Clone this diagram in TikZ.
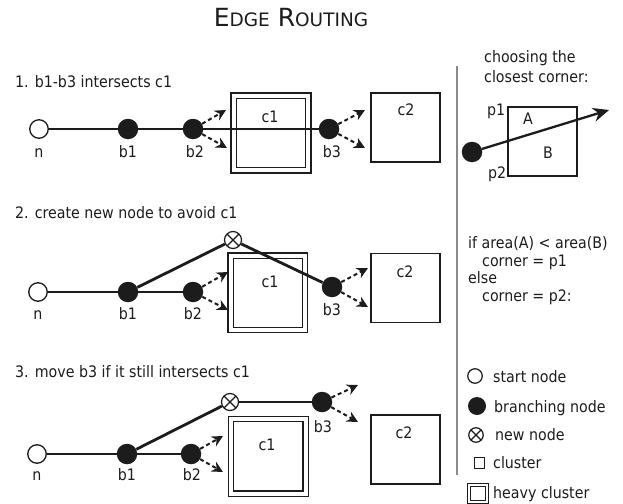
\documentclass[tikz,border=0pt]{standalone}
\usepackage{fontspec}
\setmainfont{DejaVu Sans}[FakeStretch=0.9]
\newfontfamily\titlefont{DejaVu Sans}
\usetikzlibrary{arrows.meta}
\definecolor{ink}{HTML}{1C1C1C}
\definecolor{rule}{HTML}{8A8A8A}
\tikzset{
  txt/.style={inner sep=0pt, text=ink, font=\fontsize{15.8}{19}\selectfont},
  lbl/.style={txt, anchor=base},
  ltxt/.style={txt, anchor=base west},
  startnode/.style={circle, draw=ink, fill=white, line width=1.3pt, minimum size=18.5pt, inner sep=0pt},
  branchnode/.style={circle, fill=ink, minimum size=20.5pt, inner sep=0pt},
  newnode/.style={circle, draw=ink, fill=white, line width=1.2pt, minimum size=17pt, inner sep=0pt,
    path picture={\draw[ink, line width=1.2pt]
      (path picture bounding box.north west) -- (path picture bounding box.south east)
      (path picture bounding box.north east) -- (path picture bounding box.south west);}},
  cluster/.style={rectangle, draw=ink, line width=1.3pt, minimum size=69pt, inner sep=0pt},
  heavy/.style={rectangle, draw=ink, line width=1.3pt, double=white, double distance=4pt, minimum size=74.5pt, inner sep=0pt},
  thinedge/.style={draw=ink, line width=2pt},
  thickedge/.style={draw=ink, line width=2.8pt},
  probe/.style={draw=ink, line width=2pt, dash pattern=on 4pt off 3pt, -{Stealth[length=11pt,width=11pt]}},
}
\begin{document}
\begin{tikzpicture}[x=1pt, y=-1pt]
\useasboundingbox (0,0) rectangle (623,503);

% title
\node[anchor=base, inner sep=0pt, text=ink] (title) at (291,27)
  {\titlefont\fontsize{25}{25}\selectfont E{\fontsize{18.5}{18.5}\selectfont DGE} R{\fontsize{18.5}{18.5}\selectfont OUTING}};

% separator
\coordinate (vt) at (457,66);
\coordinate (vb) at (457,475);
\draw[rule, line width=1.3pt] (vt) -- (vb);

% ---------- row 1 ----------
\node[ltxt] (h1) at (15,87) {1. b1-b3 intersects c1};
\node[heavy] (c1a) at (271,133) {};
\node[cluster] (c2a) at (405.5,127.5) {};
\node[lbl] (c1al) at (270,122) {c1};
\node[lbl] (c2al) at (406,115) {c2};
\node[startnode] (na) at (39,129) {};
\node[branchnode] (b1a) at (128,129) {};
\node[branchnode] (b2a) at (193,129) {};
\node[branchnode] (b3a) at (329,129) {};
\node[lbl] (nal) at (39,157) {n};
\node[lbl] (b1al) at (128,157) {b1};
\node[lbl] (b2al) at (195,157) {b2};
\node[lbl] (b3al) at (332,157) {b3};
\draw[thinedge] (na) -- (b1a);
\draw[thinedge] (b1a) -- (b2a);
\draw[thickedge] (b2a) -- (b3a);
\coordinate (t2au) at (226,110);
\coordinate (t2ad) at (227,148);
\coordinate (t3au) at (365,110);
\coordinate (t3ad) at (365,148);
\draw[probe] (b2a) -- (t2au);
\draw[probe] (b2a) -- (t2ad);
\draw[probe] (b3a) -- (t3au);
\draw[probe] (b3a) -- (t3ad);

% ---------- row 2 ----------
\node[ltxt] (h2) at (15,218) {2. create new node to avoid c1};
\node[heavy] (c1b) at (267.75,292.75) {};
\node[cluster] (c2b) at (405.5,288) {};
\node[lbl] (c1bl) at (270,287) {c1};
\node[lbl] (c2bl) at (405,277) {c2};
\node[startnode] (nb) at (38,292) {};
\node[branchnode] (b1b) at (128,292) {};
\node[branchnode] (b2b) at (193,292) {};
\node[branchnode] (b3b) at (332,287) {};
\node[newnode] (xb) at (233,240) {};
\node[lbl] (nbl) at (38,319) {n};
\node[lbl] (b1bl) at (128,319) {b1};
\node[lbl] (b2bl) at (193,319) {b2};
\node[lbl] (b3bl) at (332,315) {b3};
\draw[thinedge] (nb) -- (b1b);
\draw[thinedge] (b1b) -- (b2b);
\draw[thickedge] (b1b) -- (xb);
\draw[thickedge] (xb) -- (b3b);
\coordinate (t2bu) at (228,272);
\coordinate (t2bd) at (228,310);
\coordinate (t3bu) at (368,268);
\coordinate (t3bd) at (368,307);
\draw[probe] (b2b) -- (t2bu);
\draw[probe] (b2b) -- (t2bd);
\draw[probe] (b3b) -- (t3bu);
\draw[probe] (b3b) -- (t3bd);

% ---------- row 3 ----------
\node[ltxt] (h3) at (15,377) {3. move b3 if it still intersects c1};
\node[heavy] (c1c) at (268.25,456.25) {};
\node[cluster] (c2c) at (405.5,449.5) {};
\node[lbl] (c1cl) at (267,450) {c1};
\node[lbl] (c2cl) at (404,438) {c2};
\node[startnode] (nc) at (37,454) {};
\node[branchnode] (b1c) at (127,454) {};
\node[branchnode] (b2c) at (191,454) {};
\node[branchnode] (b3c) at (322,402) {};
\node[newnode] (xc) at (230,402) {};
\node[lbl] (ncl) at (37,480) {n};
\node[lbl] (b1cl) at (127,480) {b1};
\node[lbl] (b2cl) at (192,480) {b2};
\node[lbl] (b3cl) at (323,432) {b3};
\draw[thinedge] (nc) -- (b1c);
\draw[thinedge] (b1c) -- (b2c);
\draw[thickedge] (b1c) -- (xc);
\draw[thickedge] (xc) -- (b3c);
\coordinate (t2cu) at (223,436);
\coordinate (t2cd) at (223,472);
\coordinate (t3cu) at (358,385);
\coordinate (t3cd) at (358,422);
\draw[probe] (b2c) -- (t2cu);
\draw[probe] (b2c) -- (t2cd);
\draw[probe] (b3c) -- (t3cu);
\draw[probe] (b3c) -- (t3cd);

% ---------- right panel ----------
\node[ltxt] (q1) at (484,63) {choosing the};
\node[ltxt] (q2) at (484,82) {closest corner:};
\node[cluster] (box) at (542.5,141.5) {};
\node[ltxt] (p1) at (487,115) {p1};
\node[ltxt] (p2) at (488,178) {p2};
\node[lbl] (A) at (528,124) {A};
\node[lbl] (B) at (548,158) {B};
\node[branchnode] (dot) at (472,152) {};
\coordinate (tip) at (609,110);
\draw[draw=ink, line width=2.3pt, -{Stealth[length=16pt,width=14pt]}] (dot) -- (tip);

\node[ltxt] (i1) at (468,248) {if area(A) < area(B)};
\node[ltxt] (i2) at (482,266) {corner = p1};
\node[ltxt] (i3) at (468,283) {else};
\node[ltxt] (i4) at (482,301) {corner = p2:};

% ---------- legend ----------
\node[startnode, minimum size=14.5pt, line width=1.2pt] (ls) at (475,376) {};
\node[ltxt] (lst) at (493,382.5) {start node};
\node[branchnode, minimum size=18pt] (lb) at (477,406) {};
\node[ltxt] (lbt) at (494,412) {branching node};
\node[newnode, minimum size=14.5pt] (lx) at (476,435) {};
\node[ltxt] (lxt) at (495,440) {new node};
\node[cluster, minimum size=10.5pt, line width=1.2pt] (lc) at (479.5,463) {};
\node[ltxt] (lct) at (493,468) {cluster};
\node[heavy, minimum size=17.5pt, line width=1pt, double distance=1.6pt] (lh) at (478,493.5) {};
\node[ltxt] (lht) at (493,498) {heavy cluster};
\end{tikzpicture}
\end{document}
